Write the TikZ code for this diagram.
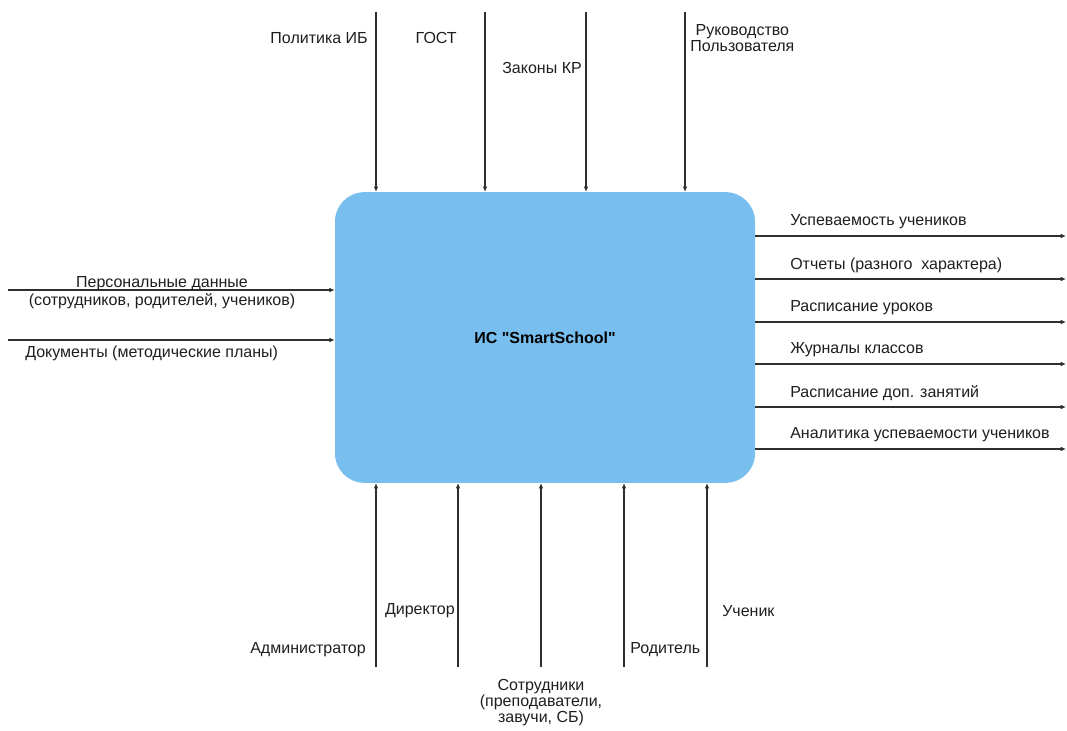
\documentclass[tikz,border=0pt]{standalone}
\usepackage{fontspec}
\setmainfont{Liberation Sans}[Ligatures=TeXOff]
\usepackage{xcolor}
\usepackage{tikz}
\usetikzlibrary{arrows.meta,positioning}
\definecolor{SSBlue}{HTML}{78BEEF}
\definecolor{SSLine}{HTML}{2E2E2E}
\definecolor{SSText}{HTML}{1E1E1E}
\tikzset{
  flow/.style={draw=SSLine, line width=0.9pt, -{Latex[length=4pt,width=3.5pt]}},
  lbl/.style={font=\fontsize{12}{12.2}\selectfont, text=SSText, inner sep=0pt},
}

\begin{document}
\begin{tikzpicture}[x=0.75pt,y=-0.75pt]
\useasboundingbox (0,0) rectangle (1067,731);

% main block
\node[
  fill=SSBlue, rounded corners=22pt, inner sep=0pt,
  minimum width=315pt, minimum height=218pt
] (is) at (545,337.5) {\fontsize{12}{14}\selectfont\bfseries ИС "SmartSchool"};

% controls (top)
\foreach \x/\n in {376/pol,485/gost,586/zak,685/ruk}{
  \coordinate (\n) at (\x,12);
  \draw[flow] (\n) -- (\n |- is.north);
}
\node[lbl, anchor=east] (polT) at (368,38) {Политика ИБ};
\node[lbl, anchor=east] (gostT) at (457,38) {ГОСТ};
\node[lbl, anchor=east] (zakT) at (582,68) {Законы КР};
\node[lbl, anchor=west, align=center] (rukT) at (690,38) {Руководство\\Пользователя};

% inputs (left)
\foreach \y/\n in {290/pers,340/docs}{
  \coordinate (\n) at (8,\y);
  \draw[flow] (\n) -- (\n -| is.west);
}
\node[lbl, anchor=base] (persT) at (162,287.5) {Персональные данные};
\node[lbl, anchor=base] (persT2) at (162,305) {(сотрудников, родителей, учеников)};
\node[lbl, anchor=west] (docsT) at (25,353) {Документы (методические планы)};

% outputs (right)
\foreach \y/\n/\t in {236/o1/Успеваемость учеников,
                     279/o2/Отчеты (разного\ \ характера),
                     322/o3/Расписание уроков,
                     364/o4/Журналы классов,
                     407/o5/Расписание доп. занятий,
                     449/o6/Аналитика успеваемости учеников}{
  \coordinate (\n) at (1066,\y);
  \draw[flow] (\n -| is.east) -- (\n);
  \node[lbl, anchor=west] (\n T) at (790,\y-14) {\t};
}

% mechanisms (bottom)
\foreach \x/\n in {376/adm,458/dir,541/sotr,624/rod,707/uch}{
  \coordinate (\n) at (\x,667);
  \draw[flow] (\n) -- (\n |- is.south);
}
\node[lbl, anchor=east] (admT) at (366,650) {Администратор};
\node[lbl, anchor=east] (dirT) at (455,611) {Директор};
\node[lbl, anchor=north, align=center] (sotrT) at (541,679) {Сотрудники\\(преподаватели,\\завучи, СБ)};
\node[lbl, anchor=west] (rodT) at (630,650) {Родитель};
\node[lbl, anchor=west] (uchT) at (722,611) {Ученик};
\end{tikzpicture}
\end{document}
